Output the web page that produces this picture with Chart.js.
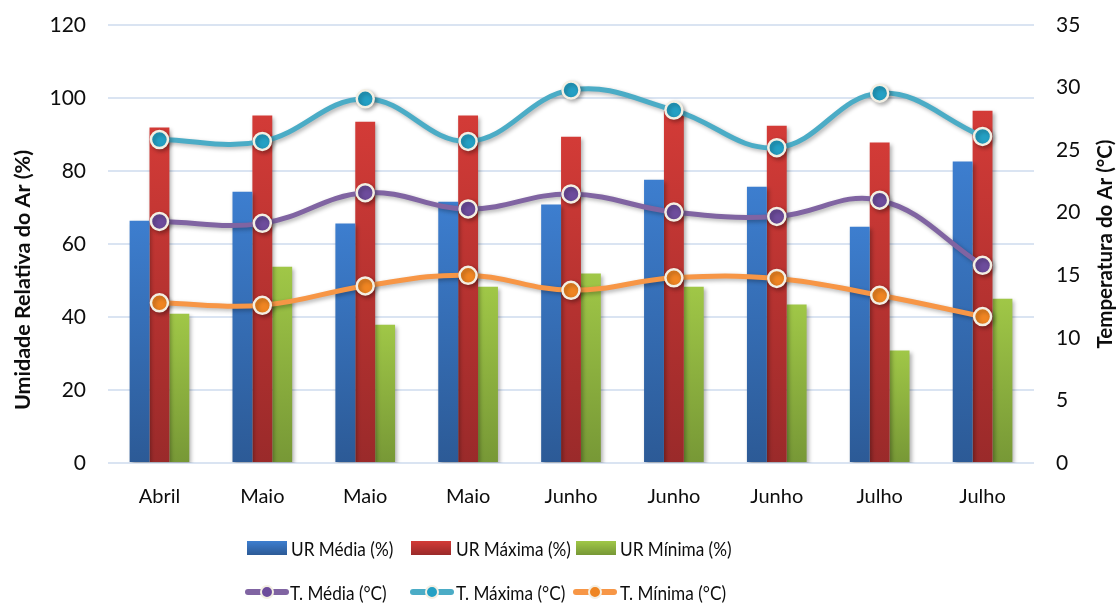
<!DOCTYPE html>
<html>
<head>
<meta charset="utf-8">
<script src="https://cdn.jsdelivr.net/npm/chart.js@4"></script>
<style>
  html, body { margin: 0; padding: 0; background: #fff; }
  #wrap { position: relative; width: 1116px; height: 605px; font-family: Lato, sans-serif; color: #0d0d0d; }
  #climaChart { position: absolute; left: 0; top: 0; }
  .legend-row { position: absolute; left: 0; height: 24px; font-size: 20px; }
  .item { position: absolute; top: 0; height: 24px; line-height: 24px; white-space: nowrap; }
  .box { position: absolute; top: 5px; left: 0; width: 40px; height: 14px; }
  .lin { position: absolute; top: 9px; left: 0; width: 44px; height: 6px; border-radius: 3px; }
  .dot { position: absolute; top: 5px; left: 15px; width: 10px; height: 10px; border-radius: 50%; border: 2px solid #f3efe3; }
  .txt { position: absolute; top: 0; transform: scaleX(0.86); transform-origin: left center; }
</style>
</head>
<body>
<div id="wrap">
  <canvas id="climaChart" width="1116" height="605"></canvas>

  <div class="legend-row" style="top:536px">
    <div class="item" style="left:247px">
      <div class="box" style="background:linear-gradient(#3d7ecf,#2c5a96)"></div>
      <span class="txt" style="left:44px">UR Média (%)</span>
    </div>
    <div class="item" style="left:411px">
      <div class="box" style="background:linear-gradient(#d33b37,#9a2a2a)"></div>
      <span class="txt" style="left:45px">UR Máxima (%)</span>
    </div>
    <div class="item" style="left:576px">
      <div class="box" style="background:linear-gradient(#a0c747,#779836)"></div>
      <span class="txt" style="left:44px">UR Mínima (%)</span>
    </div>
  </div>

  <div class="legend-row" style="top:580px">
    <div class="item" style="left:245px">
      <div class="lin" style="background:#8064a2"></div>
      <div class="dot" style="background:#6d4c9c"></div>
      <span class="txt" style="left:45px">T. Média (°C)</span>
    </div>
    <div class="item" style="left:410px">
      <div class="lin" style="background:#4bacc6"></div>
      <div class="dot" style="background:#24a0c4"></div>
      <span class="txt" style="left:46px">T. Máxima (°C)</span>
    </div>
    <div class="item" style="left:573px">
      <div class="lin" style="background:#f79646"></div>
      <div class="dot" style="background:#ef8522"></div>
      <span class="txt" style="left:47px">T. Mínima (°C)</span>
    </div>
  </div>
</div>

<script>
const meses = ['Abril', 'Maio', 'Maio', 'Maio', 'Junho', 'Junho', 'Junho', 'Julho', 'Julho'];

// umidade relativa (%)
const urMedia  = [66.4, 74.3, 65.6, 71.6, 70.8, 77.6, 75.7, 64.7, 82.6];
const urMaxima = [91.9, 95.2, 93.5, 95.2, 89.4, 96.5, 92.4, 87.8, 96.5];
const urMinima = [40.9, 53.8, 37.9, 48.3, 51.9, 48.3, 43.4, 30.8, 45.0];

// temperatura do ar (°C)
const tMedia  = [19.3, 19.15, 21.6, 20.3, 21.5, 20.05, 19.7, 21.0, 15.8];
const tMaxima = [25.85, 25.7, 29.1, 25.7, 29.8, 28.2, 25.2, 29.55, 26.1];
const tMinima = [12.8, 12.6, 14.15, 15.0, 13.8, 14.8, 14.75, 13.4, 11.7];

const fonte = 'Lato, sans-serif';

// vertical gradient per bar, light at the top, dark at the base
function barGradient(top, bottom) {
    return function(ctx) {
        const chart = ctx.chart;
        const area = chart.chartArea;
        if (!area || ctx.type !== 'data') return top;
        const yTop = chart.scales.y.getPixelForValue(ctx.raw);
        const g = chart.ctx.createLinearGradient(0, yTop, 0, area.bottom);
        g.addColorStop(0, top);
        g.addColorStop(1, bottom);
        return g;
    };
}

const sombra = {
    id: 'sombra',
    beforeDatasetDraw(chart) {
        const c = chart.ctx;
        c.save();
        c.shadowColor = 'rgba(0,0,0,0.3)';
        c.shadowBlur = 4;
        c.shadowOffsetX = 2;
        c.shadowOffsetY = 2;
    },
    afterDatasetDraw(chart) {
        chart.ctx.restore();
    }
};

// both axis titles read bottom to top
function tituloVertical(c, texto, x, y, tamanho) {
    c.save();
    c.fillStyle = '#0d0d0d';
    c.font = 'bold ' + tamanho + 'px ' + fonte;
    c.textAlign = 'center';
    c.textBaseline = 'middle';
    c.translate(x, y);
    c.rotate(-Math.PI / 2);
    c.fillText(texto, 0, 0);
    c.restore();
}

const titulos = {
    id: 'titulos',
    afterDraw(chart) {
        tituloVertical(chart.ctx, 'Umidade Relativa do Ar (%)', 23, 280, 21.5);
        tituloVertical(chart.ctx, 'Temperatura do Ar (°C)', 1105, 244, 20.5);
    }
};

// fixed axis box, without the extra room Chart.js keeps for the end labels
function caixaVertical(largura) {
    return function(scale) {
        scale.width = largura;
        scale.paddingTop = 10;
        scale.paddingBottom = 10;
    };
}

function linha(label, data, cor, corPonto) {
    return {
        type: 'line',
        label: label,
        data: data,
        yAxisID: 'y1',
        order: 1,
        borderColor: cor,
        borderWidth: 5,
        tension: 0.4,
        pointRadius: 8.5,
        pointHoverRadius: 8.5,
        pointBackgroundColor: corPonto,
        pointBorderColor: '#f3efe3',
        pointBorderWidth: 2.5
    };
}

function barra(label, data, top, bottom) {
    return {
        type: 'bar',
        label: label,
        data: data,
        yAxisID: 'y',
        order: 2,
        backgroundColor: barGradient(top, bottom),
        borderWidth: 0,
        barPercentage: 1,
        categoryPercentage: 0.58
    };
}

new Chart(document.getElementById('climaChart'), {
    data: {
        labels: meses,
        datasets: [
            barra('UR Média (%)', urMedia, '#3d7ecf', '#2c5a96'),
            barra('UR Máxima (%)', urMaxima, '#d33b37', '#9a2a2a'),
            barra('UR Mínima (%)', urMinima, '#a0c747', '#779836'),
            linha('T. Média (°C)', tMedia, '#8064a2', '#6d4c9c'),
            linha('T. Máxima (°C)', tMaxima, '#4bacc6', '#24a0c4'),
            linha('T. Mínima (°C)', tMinima, '#f79646', '#ef8522')
        ]
    },
    options: {
        responsive: false,
        animation: false,
        layout: { padding: { top: 25, left: 0, right: 0, bottom: 0 } },
        plugins: {
            legend: { display: false },
            tooltip: { enabled: false }
        },
        scales: {
            x: {
                grid: { display: false, drawTicks: false },
                border: { display: false },
                ticks: { color: '#0d0d0d', font: { family: fonte, size: 20 }, padding: 22 },
                afterFit(scale) { scale.height = 142; }
            },
            y: {
                position: 'left',
                min: 0,
                max: 120,
                ticks: { stepSize: 20, color: '#0d0d0d', font: { family: fonte, size: 21 }, padding: 22 },
                grid: { color: '#dae4f2', lineWidth: 2, drawTicks: false },
                border: { display: false },
                afterFit: caixaVertical(108)
            },
            y1: {
                position: 'right',
                min: 0,
                max: 35,
                ticks: { stepSize: 5, color: '#0d0d0d', font: { family: fonte, size: 21 }, padding: 22 },
                grid: { display: false, drawTicks: false },
                border: { display: false },
                afterFit: caixaVertical(82)
            }
        }
    },
    plugins: [sombra, titulos]
});
</script>
</body>
</html>
